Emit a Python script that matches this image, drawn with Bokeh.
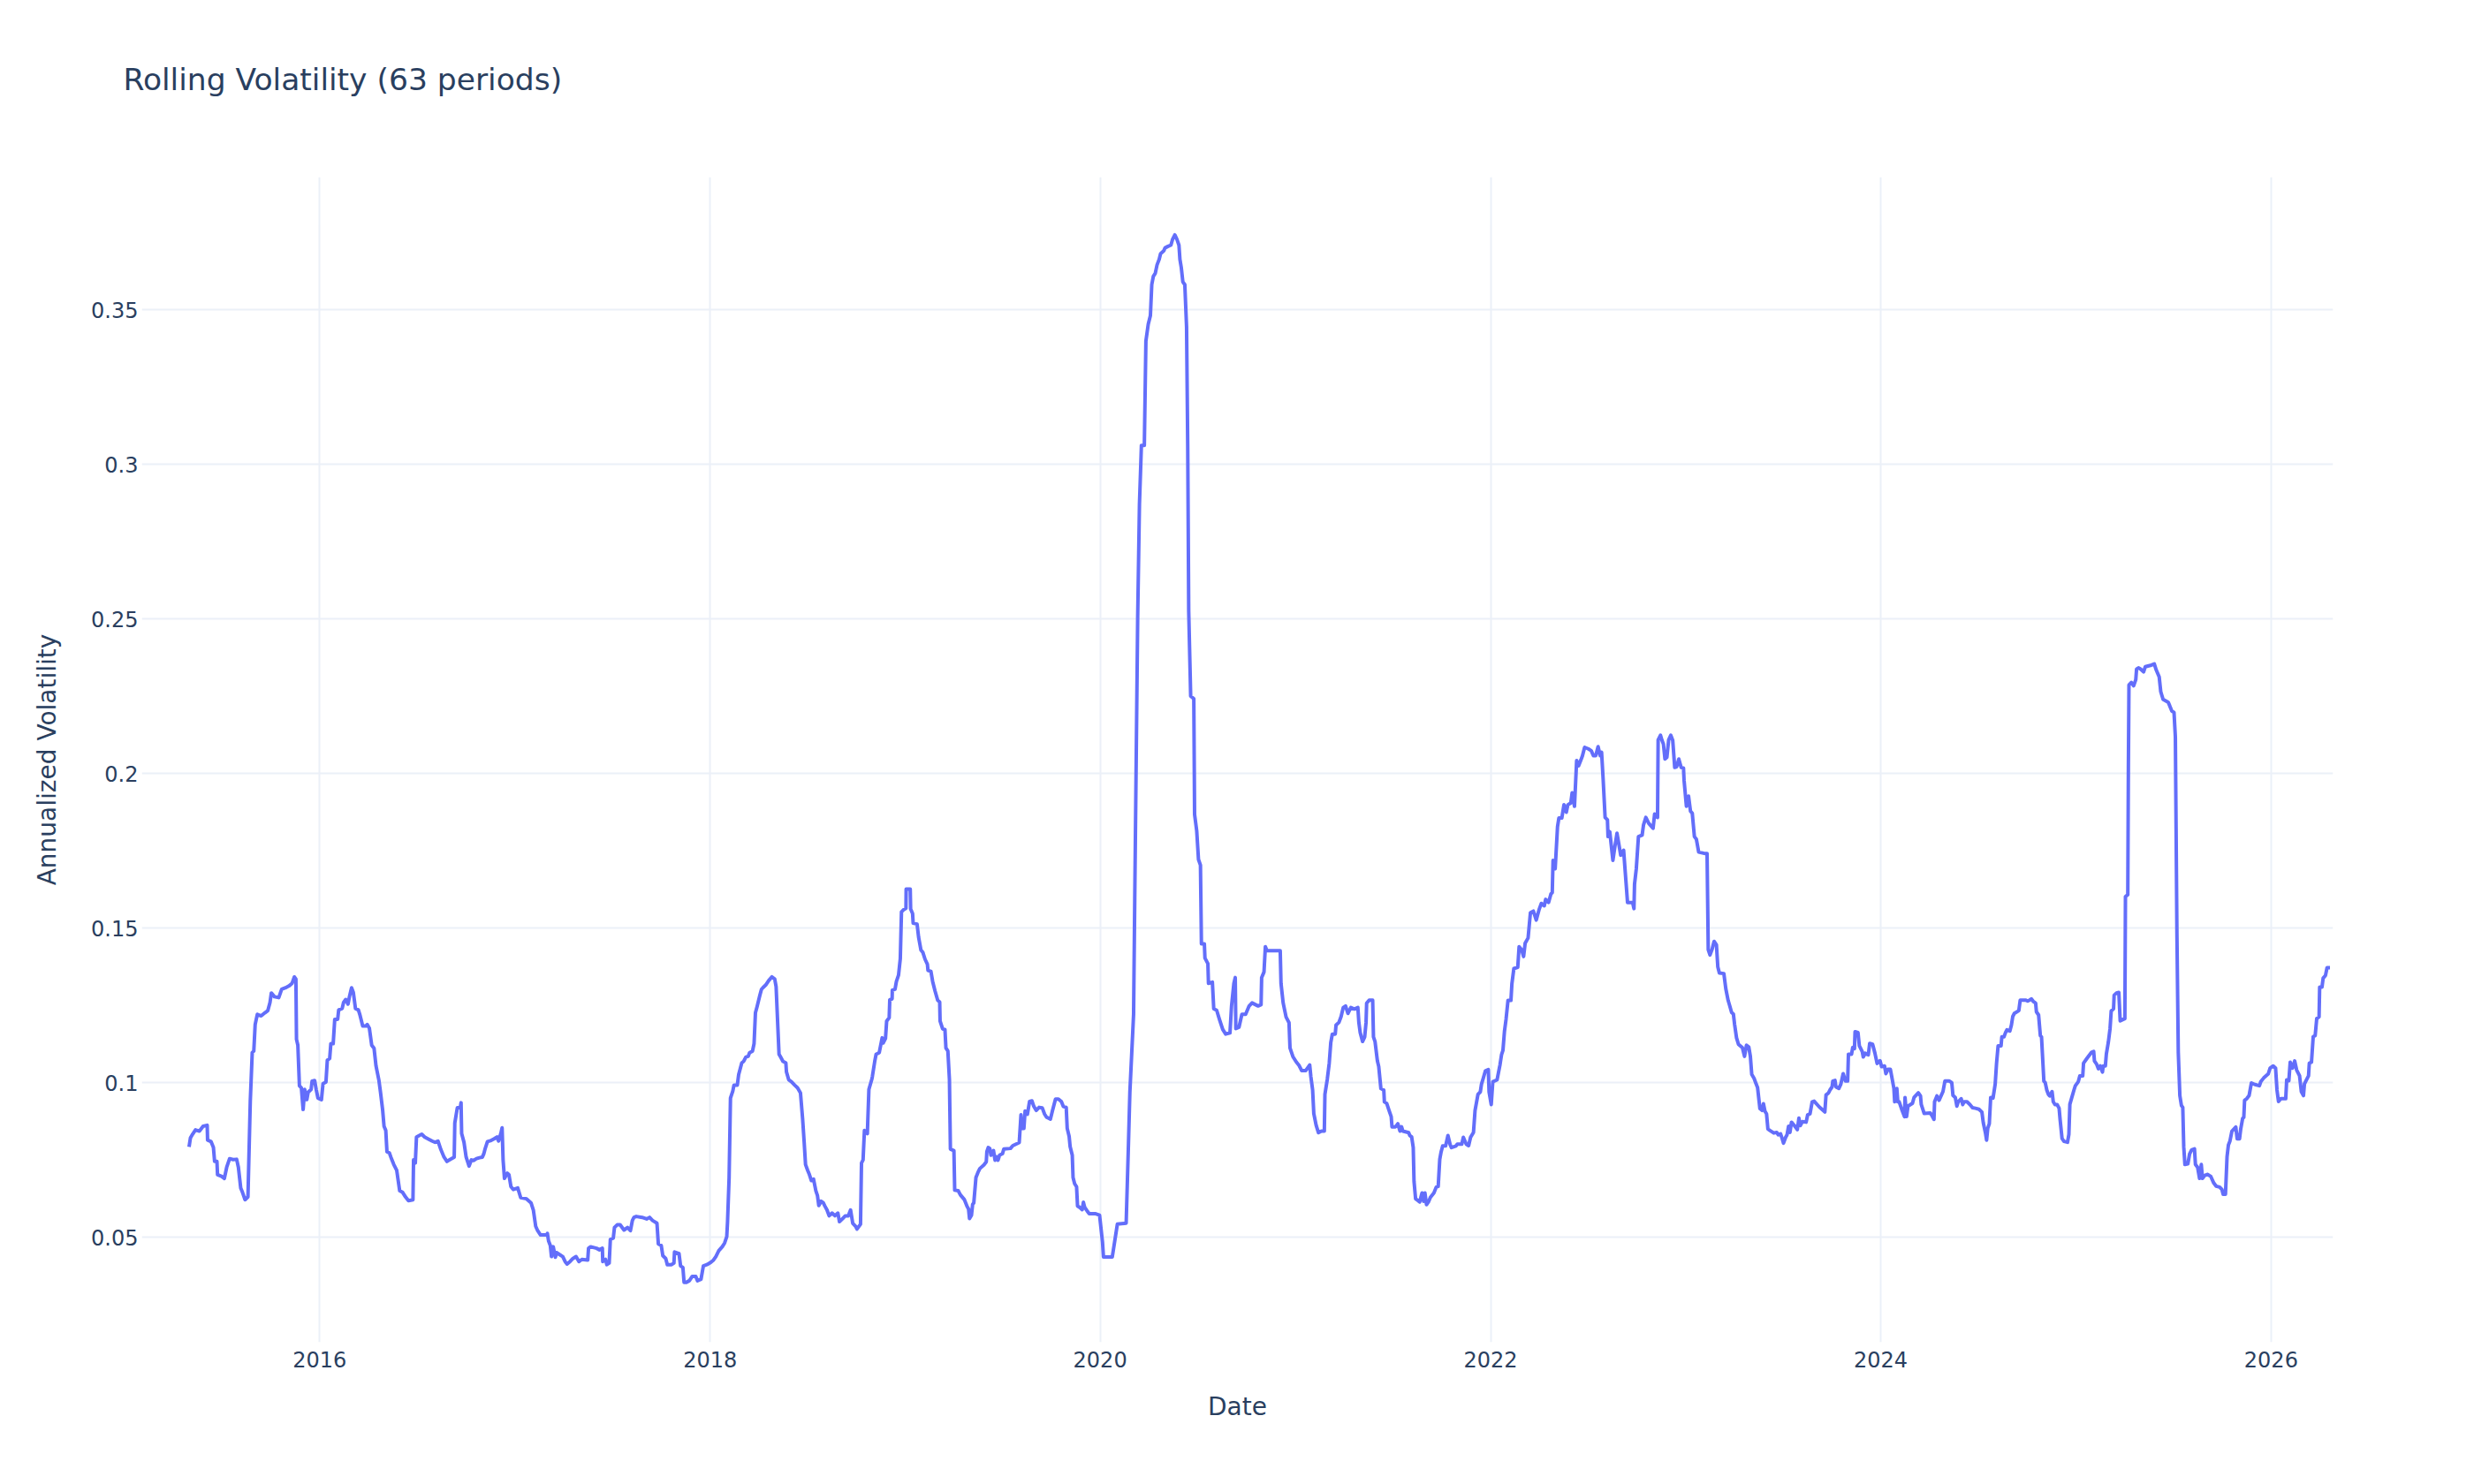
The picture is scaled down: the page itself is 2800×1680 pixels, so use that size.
from datetime import datetime

import pandas as pd
from bokeh.embed import file_html
from bokeh.models import (ColumnDataSource, DatetimeTickFormatter, FixedTicker,
                          NumeralTickFormatter, Range1d, Title)
from bokeh.plotting import figure
from bokeh.resources import INLINE

# Rolling 63-period annualized volatility, (decimal year, volatility) pairs.
vol_2015_2016 = [
    (2015.330, 0.0792), (2015.337, 0.0821), (2015.348, 0.0833), (2015.363, 0.0847),
    (2015.383, 0.0843), (2015.402, 0.0859), (2015.423, 0.0862), (2015.425, 0.0814),
    (2015.443, 0.0809), (2015.455, 0.0790), (2015.461, 0.0745), (2015.473, 0.0745),
    (2015.476, 0.0702), (2015.496, 0.0697), (2015.511, 0.0690), (2015.523, 0.0726),
    (2015.538, 0.0754), (2015.556, 0.0751), (2015.574, 0.0752), (2015.583, 0.0726),
    (2015.595, 0.0659), (2015.604, 0.0645), (2015.617, 0.0621), (2015.632, 0.0630),
    (2015.644, 0.0940), (2015.654, 0.1097), (2015.662, 0.1102), (2015.669, 0.1188),
    (2015.680, 0.1221), (2015.700, 0.1216), (2015.719, 0.1226), (2015.734, 0.1233),
    (2015.745, 0.1259), (2015.752, 0.1290), (2015.768, 0.1278), (2015.790, 0.1275),
    (2015.805, 0.1302), (2015.825, 0.1307), (2015.843, 0.1313), (2015.858, 0.1321),
    (2015.870, 0.1342), (2015.878, 0.1335), (2015.881, 0.1140), (2015.888, 0.1121),
    (2015.896, 0.0990), (2015.906, 0.0983), (2015.915, 0.0913), (2015.923, 0.0978),
    (2015.934, 0.0945), (2015.941, 0.0969), (2015.956, 0.0978), (2015.961, 0.1005),
    (2015.974, 0.1007), (2015.982, 0.0978), (2015.991, 0.0950), (2016.009, 0.0945),
    (2016.017, 0.0997), (2016.032, 0.1002), (2016.039, 0.1073), (2016.051, 0.1078),
    (2016.057, 0.1126), (2016.069, 0.1126), (2016.077, 0.1205), (2016.092, 0.1205),
    (2016.097, 0.1235), (2016.115, 0.1240), (2016.122, 0.1259), (2016.133, 0.1269),
    (2016.145, 0.1254), (2016.152, 0.1278), (2016.163, 0.1307), (2016.172, 0.1292),
    (2016.183, 0.1240), (2016.198, 0.1235), (2016.205, 0.1221), (2016.220, 0.1183),
    (2016.236, 0.1183), (2016.243, 0.1188), (2016.254, 0.1176), (2016.266, 0.1121),
    (2016.278, 0.1111), (2016.288, 0.1054), (2016.303, 0.1007), (2016.311, 0.0969),
    (2016.322, 0.0911), (2016.329, 0.0859), (2016.338, 0.0845), (2016.344, 0.0776),
    (2016.356, 0.0773), (2016.364, 0.0759), (2016.379, 0.0735), (2016.394, 0.0716),
    (2016.409, 0.0650), (2016.424, 0.0645), (2016.439, 0.0630), (2016.454, 0.0618),
    (2016.477, 0.0621), (2016.480, 0.0750), (2016.489, 0.0740), (2016.495, 0.0824),
    (2016.507, 0.0828), (2016.522, 0.0833), (2016.537, 0.0824), (2016.560, 0.0816),
    (2016.575, 0.0811), (2016.590, 0.0807), (2016.605, 0.0811), (2016.620, 0.0783),
    (2016.636, 0.0759), (2016.651, 0.0745), (2016.666, 0.0751), (2016.688, 0.0759),
    (2016.691, 0.0869), (2016.704, 0.0919), (2016.719, 0.0919), (2016.723, 0.0935),
    (2016.726, 0.0835), (2016.738, 0.0807), (2016.749, 0.0759), (2016.764, 0.0730),
    (2016.776, 0.0750), (2016.787, 0.0748), (2016.802, 0.0754), (2016.817, 0.0757),
    (2016.832, 0.0759), (2016.839, 0.0769), (2016.847, 0.0788), (2016.858, 0.0809),
    (2016.877, 0.0813), (2016.892, 0.0818), (2016.907, 0.0824), (2016.915, 0.0811),
    (2016.927, 0.0837), (2016.933, 0.0854), (2016.938, 0.0750), (2016.945, 0.0690),
    (2016.960, 0.0707), (2016.968, 0.0702), (2016.978, 0.0664), (2016.990, 0.0654),
    (2017.013, 0.0659), (2017.028, 0.0628), (2017.058, 0.0624),
]

vol_2017_2018 = [
    (2017.081, 0.0611), (2017.093, 0.0588), (2017.105, 0.0535), (2017.115, 0.0521),
    (2017.130, 0.0507), (2017.161, 0.0507), (2017.165, 0.0512), (2017.171, 0.0488),
    (2017.180, 0.0473), (2017.186, 0.0437), (2017.195, 0.0469), (2017.206, 0.0435),
    (2017.213, 0.0450), (2017.229, 0.0443), (2017.244, 0.0437), (2017.256, 0.0421),
    (2017.266, 0.0413), (2017.281, 0.0421), (2017.296, 0.0431), (2017.312, 0.0437),
    (2017.327, 0.0421), (2017.342, 0.0428), (2017.372, 0.0426), (2017.376, 0.0464),
    (2017.387, 0.0469), (2017.417, 0.0464), (2017.432, 0.0459), (2017.447, 0.0464),
    (2017.449, 0.0421), (2017.463, 0.0428), (2017.470, 0.0411), (2017.482, 0.0416),
    (2017.488, 0.0493), (2017.503, 0.0497), (2017.509, 0.0531), (2017.523, 0.0540),
    (2017.538, 0.0540), (2017.558, 0.0523), (2017.576, 0.0531), (2017.591, 0.0521),
    (2017.601, 0.0554), (2017.609, 0.0564), (2017.621, 0.0567), (2017.651, 0.0564),
    (2017.674, 0.0559), (2017.689, 0.0564), (2017.704, 0.0554), (2017.727, 0.0545),
    (2017.734, 0.0478), (2017.749, 0.0473), (2017.757, 0.0440), (2017.772, 0.0431),
    (2017.780, 0.0411), (2017.802, 0.0411), (2017.814, 0.0416), (2017.817, 0.0452),
    (2017.840, 0.0447), (2017.848, 0.0407), (2017.860, 0.0402), (2017.866, 0.0354),
    (2017.878, 0.0354), (2017.893, 0.0359), (2017.908, 0.0373), (2017.926, 0.0373),
    (2017.935, 0.0359), (2017.953, 0.0364), (2017.965, 0.0407), (2017.983, 0.0411),
    (2018.002, 0.0418), (2018.017, 0.0426), (2018.029, 0.0437), (2018.044, 0.0456),
    (2018.062, 0.0469), (2018.074, 0.0481), (2018.085, 0.0502), (2018.089, 0.0550),
    (2018.097, 0.0692), (2018.104, 0.0950), (2018.116, 0.0973), (2018.122, 0.0992),
    (2018.139, 0.0992), (2018.146, 0.1026), (2018.162, 0.1064), (2018.172, 0.1069),
    (2018.183, 0.1083), (2018.195, 0.1085), (2018.202, 0.1097), (2018.217, 0.1102),
    (2018.225, 0.1126), (2018.232, 0.1226), (2018.240, 0.1245), (2018.255, 0.1283),
    (2018.263, 0.1302), (2018.270, 0.1307), (2018.285, 0.1316), (2018.300, 0.1330),
    (2018.316, 0.1342), (2018.331, 0.1335), (2018.338, 0.1311), (2018.353, 0.1092),
    (2018.361, 0.1083), (2018.373, 0.1069), (2018.388, 0.1064), (2018.391, 0.1035),
    (2018.403, 0.1009), (2018.418, 0.1002), (2018.433, 0.0992), (2018.448, 0.0983),
    (2018.463, 0.0967), (2018.474, 0.0883), (2018.482, 0.0807), (2018.489, 0.0735),
    (2018.500, 0.0716), (2018.509, 0.0702), (2018.519, 0.0683), (2018.530, 0.0688),
    (2018.542, 0.0650), (2018.550, 0.0635), (2018.557, 0.0602), (2018.569, 0.0616),
    (2018.580, 0.0611), (2018.587, 0.0602), (2018.599, 0.0588), (2018.610, 0.0569),
    (2018.625, 0.0578), (2018.640, 0.0569), (2018.655, 0.0578), (2018.663, 0.0550),
    (2018.678, 0.0559), (2018.693, 0.0569), (2018.708, 0.0569), (2018.720, 0.0588),
    (2018.731, 0.0545), (2018.746, 0.0535), (2018.753, 0.0526), (2018.771, 0.0542),
    (2018.776, 0.0740), (2018.784, 0.0750), (2018.791, 0.0845), (2018.806, 0.0835),
    (2018.814, 0.0978), (2018.829, 0.1011), (2018.832, 0.1021), (2018.844, 0.1069),
    (2018.851, 0.1092), (2018.867, 0.1097), (2018.882, 0.1145),
]

vol_2019 = [
    (2018.887, 0.1128), (2018.899, 0.1143), (2018.905, 0.1199), (2018.918, 0.1210),
    (2018.921, 0.1268), (2018.933, 0.1271), (2018.934, 0.1299), (2018.948, 0.1302),
    (2018.955, 0.1327), (2018.966, 0.1348), (2018.975, 0.1401), (2018.981, 0.1552),
    (2018.993, 0.1560), (2019.004, 0.1564), (2019.005, 0.1626), (2019.026, 0.1626),
    (2019.028, 0.1562), (2019.038, 0.1547), (2019.041, 0.1516), (2019.061, 0.1513),
    (2019.069, 0.1470), (2019.081, 0.1429), (2019.091, 0.1421), (2019.102, 0.1399),
    (2019.114, 0.1383), (2019.117, 0.1363), (2019.132, 0.1360), (2019.141, 0.1327),
    (2019.153, 0.1297), (2019.167, 0.1266), (2019.177, 0.1261), (2019.179, 0.1199),
    (2019.192, 0.1174), (2019.204, 0.1172), (2019.209, 0.1112), (2019.219, 0.1102),
    (2019.227, 0.1010), (2019.232, 0.0785), (2019.250, 0.0780), (2019.254, 0.0652),
    (2019.272, 0.0650), (2019.283, 0.0637), (2019.303, 0.0622), (2019.318, 0.0599),
    (2019.325, 0.0591), (2019.330, 0.0560), (2019.340, 0.0571), (2019.346, 0.0606),
    (2019.352, 0.0611), (2019.363, 0.0693), (2019.373, 0.0709), (2019.383, 0.0722),
    (2019.404, 0.0734), (2019.416, 0.0744), (2019.419, 0.0777), (2019.426, 0.0790),
    (2019.434, 0.0787), (2019.440, 0.0765), (2019.453, 0.0780), (2019.461, 0.0749),
    (2019.469, 0.0760), (2019.476, 0.0749), (2019.484, 0.0765), (2019.499, 0.0770),
    (2019.506, 0.0785), (2019.540, 0.0787), (2019.552, 0.0796), (2019.585, 0.0806),
    (2019.594, 0.0896), (2019.597, 0.0852), (2019.609, 0.0852), (2019.615, 0.0908),
    (2019.627, 0.0898), (2019.638, 0.0939), (2019.650, 0.0941), (2019.660, 0.0923),
    (2019.672, 0.0910), (2019.687, 0.0920), (2019.703, 0.0918), (2019.715, 0.0898),
    (2019.725, 0.0888), (2019.745, 0.0882), (2019.755, 0.0908), (2019.771, 0.0947),
    (2019.786, 0.0947), (2019.801, 0.0939), (2019.811, 0.0923), (2019.826, 0.0920),
    (2019.831, 0.0852), (2019.841, 0.0826), (2019.846, 0.0793), (2019.857, 0.0765),
    (2019.861, 0.0693), (2019.869, 0.0673), (2019.879, 0.0663), (2019.884, 0.0601),
    (2019.896, 0.0596), (2019.908, 0.0589), (2019.914, 0.0613), (2019.921, 0.0596),
    (2019.932, 0.0586), (2019.944, 0.0576), (2019.974, 0.0576), (2019.997, 0.0571),
    (2020.012, 0.0484), (2020.017, 0.0436), (2020.062, 0.0436), (2020.088, 0.0542),
    (2020.133, 0.0545), (2020.145, 0.0806), (2020.152, 0.0969),
]

vol_2020 = [
    (2020.171, 0.1221), (2020.177, 0.1595), (2020.192, 0.2506), (2020.201, 0.2871),
    (2020.211, 0.3062), (2020.226, 0.3062), (2020.234, 0.3400), (2020.246, 0.3454),
    (2020.257, 0.3482), (2020.264, 0.3582), (2020.272, 0.3609), (2020.282, 0.3619),
    (2020.291, 0.3646), (2020.302, 0.3664), (2020.309, 0.3682), (2020.325, 0.3691),
    (2020.332, 0.3701), (2020.347, 0.3706), (2020.362, 0.3710), (2020.370, 0.3728),
    (2020.382, 0.3743), (2020.393, 0.3728), (2020.403, 0.3710), (2020.408, 0.3664),
    (2020.415, 0.3637), (2020.423, 0.3591), (2020.433, 0.3582), (2020.442, 0.3445),
    (2020.448, 0.3053), (2020.453, 0.2525), (2020.463, 0.2251), (2020.479, 0.2242),
    (2020.483, 0.1868), (2020.494, 0.1814), (2020.503, 0.1722), (2020.513, 0.1704),
    (2020.518, 0.1449), (2020.533, 0.1449), (2020.536, 0.1403), (2020.551, 0.1385),
    (2020.554, 0.1321), (2020.574, 0.1325), (2020.581, 0.1239), (2020.596, 0.1234),
    (2020.611, 0.1203), (2020.627, 0.1172), (2020.642, 0.1157), (2020.664, 0.1161),
    (2020.672, 0.1248), (2020.684, 0.1321), (2020.691, 0.1340), (2020.694, 0.1175),
    (2020.710, 0.1179), (2020.725, 0.1221), (2020.744, 0.1221), (2020.762, 0.1248),
    (2020.777, 0.1258), (2020.808, 0.1248), (2020.823, 0.1252), (2020.826, 0.1340),
    (2020.838, 0.1358), (2020.845, 0.1440), (2020.853, 0.1427), (2020.921, 0.1427),
    (2020.925, 0.1321), (2020.936, 0.1258), (2020.951, 0.1212), (2020.966, 0.1194),
    (2020.971, 0.1112), (2020.986, 0.1084), (2021.004, 0.1066), (2021.016, 0.1057),
    (2021.031, 0.1039), (2021.052, 0.1039), (2021.072, 0.1057),
]

vol_2021 = [
    (2021.078, 0.1019), (2021.087, 0.0976), (2021.093, 0.0900), (2021.105, 0.0862),
    (2021.117, 0.0838), (2021.132, 0.0843), (2021.147, 0.0843), (2021.150, 0.0962),
    (2021.162, 0.1010), (2021.172, 0.1062), (2021.180, 0.1129), (2021.188, 0.1157),
    (2021.203, 0.1157), (2021.207, 0.1186), (2021.222, 0.1195), (2021.233, 0.1214),
    (2021.244, 0.1243), (2021.256, 0.1248), (2021.268, 0.1224), (2021.283, 0.1243),
    (2021.301, 0.1238), (2021.319, 0.1243), (2021.324, 0.1195), (2021.331, 0.1162),
    (2021.343, 0.1133), (2021.354, 0.1148), (2021.361, 0.1195), (2021.364, 0.1257),
    (2021.377, 0.1267), (2021.395, 0.1267), (2021.399, 0.1148), (2021.407, 0.1133),
    (2021.419, 0.1071), (2021.426, 0.1052), (2021.437, 0.0981), (2021.452, 0.0976),
    (2021.455, 0.0938), (2021.467, 0.0933), (2021.479, 0.0910), (2021.490, 0.0890),
    (2021.494, 0.0857), (2021.512, 0.0857), (2021.524, 0.0867), (2021.535, 0.0843),
    (2021.543, 0.0857), (2021.550, 0.0843), (2021.580, 0.0838), (2021.585, 0.0829),
    (2021.595, 0.0824), (2021.603, 0.0790), (2021.607, 0.0681), (2021.615, 0.0624),
    (2021.626, 0.0619), (2021.636, 0.0614), (2021.648, 0.0643), (2021.656, 0.0616),
    (2021.663, 0.0643), (2021.671, 0.0605), (2021.681, 0.0614), (2021.691, 0.0629),
    (2021.709, 0.0643), (2021.721, 0.0662), (2021.731, 0.0664), (2021.739, 0.0752),
    (2021.746, 0.0776), (2021.754, 0.0795), (2021.769, 0.0795), (2021.781, 0.0829),
    (2021.792, 0.0800), (2021.799, 0.0790), (2021.822, 0.0795),
]

vol_2022_2023 = [
    (2021.829, 0.0801), (2021.852, 0.0801), (2021.860, 0.0823), (2021.875, 0.0801),
    (2021.887, 0.0796), (2021.897, 0.0823), (2021.912, 0.0839), (2021.920, 0.0910),
    (2021.935, 0.0962), (2021.947, 0.0970), (2021.953, 0.0995), (2021.962, 0.1014),
    (2021.973, 0.1038), (2021.988, 0.1042), (2021.992, 0.0970), (2022.003, 0.0929),
    (2022.011, 0.1003), (2022.033, 0.1009), (2022.048, 0.1058), (2022.056, 0.1091),
    (2022.063, 0.1104), (2022.071, 0.1167), (2022.079, 0.1205), (2022.089, 0.1266),
    (2022.104, 0.1266), (2022.109, 0.1320), (2022.119, 0.1369), (2022.139, 0.1373),
    (2022.146, 0.1440), (2022.159, 0.1430), (2022.169, 0.1408), (2022.177, 0.1451),
    (2022.192, 0.1468), (2022.204, 0.1550), (2022.219, 0.1555), (2022.234, 0.1526),
    (2022.249, 0.1561), (2022.260, 0.1580), (2022.275, 0.1572), (2022.282, 0.1593),
    (2022.297, 0.1583), (2022.309, 0.1610), (2022.316, 0.1615), (2022.320, 0.1719),
    (2022.331, 0.1692), (2022.343, 0.1828), (2022.350, 0.1856), (2022.365, 0.1856),
    (2022.376, 0.1899), (2022.388, 0.1875), (2022.396, 0.1899), (2022.411, 0.1905),
    (2022.418, 0.1938), (2022.430, 0.1894), (2022.441, 0.2042), (2022.451, 0.2025),
    (2022.463, 0.2044), (2022.471, 0.2058), (2022.482, 0.2085), (2022.501, 0.2080),
    (2022.516, 0.2074), (2022.527, 0.2058), (2022.539, 0.2058), (2022.551, 0.2087),
    (2022.562, 0.2058), (2022.569, 0.2069), (2022.577, 0.1981), (2022.587, 0.1858),
    (2022.599, 0.1850), (2022.602, 0.1796), (2022.611, 0.1812), (2022.627, 0.1719),
    (2022.637, 0.1763), (2022.648, 0.1807), (2022.657, 0.1774), (2022.667, 0.1736),
    (2022.682, 0.1752), (2022.693, 0.1659), (2022.702, 0.1583), (2022.728, 0.1583),
    (2022.735, 0.1563), (2022.738, 0.1643), (2022.747, 0.1692), (2022.758, 0.1796),
    (2022.777, 0.1801), (2022.784, 0.1834), (2022.796, 0.1858), (2022.811, 0.1839),
    (2022.833, 0.1823), (2022.841, 0.1869), (2022.856, 0.1858), (2022.859, 0.2109),
    (2022.871, 0.2124), (2022.879, 0.2107), (2022.886, 0.2096), (2022.894, 0.2047),
    (2022.904, 0.2053), (2022.913, 0.2109), (2022.924, 0.2124), (2022.934, 0.2107),
    (2022.944, 0.2020), (2022.954, 0.2022), (2022.965, 0.2047), (2022.977, 0.2020),
    (2022.989, 0.2018), (2022.992, 0.1978), (2023.004, 0.1894), (2023.015, 0.1927),
    (2023.025, 0.1878), (2023.034, 0.1872), (2023.045, 0.1796), (2023.055, 0.1788),
    (2023.067, 0.1746), (2023.101, 0.1741), (2023.110, 0.1741), (2023.116, 0.1430),
    (2023.125, 0.1413), (2023.135, 0.1430), (2023.146, 0.1457), (2023.158, 0.1446),
    (2023.165, 0.1375), (2023.173, 0.1355), (2023.196, 0.1353), (2023.206, 0.1304),
    (2023.218, 0.1266), (2023.226, 0.1249), (2023.236, 0.1227), (2023.245, 0.1222),
    (2023.251, 0.1189), (2023.261, 0.1145), (2023.271, 0.1124), (2023.291, 0.1113),
    (2023.302, 0.1085), (2023.312, 0.1121), (2023.324, 0.1115), (2023.332, 0.1085),
    (2023.339, 0.1027), (2023.351, 0.1014), (2023.362, 0.0995), (2023.369, 0.0984),
    (2023.381, 0.0916), (2023.392, 0.0910), (2023.399, 0.0932), (2023.407, 0.0907),
    (2023.415, 0.0899), (2023.422, 0.0850), (2023.433, 0.0845), (2023.452, 0.0837),
    (2023.467, 0.0839), (2023.475, 0.0831), (2023.487, 0.0834), (2023.493, 0.0823),
    (2023.502, 0.0804), (2023.513, 0.0823), (2023.520, 0.0831), (2023.528, 0.0859),
    (2023.535, 0.0839), (2023.543, 0.0872), (2023.558, 0.0861), (2023.573, 0.0848),
    (2023.581, 0.0885), (2023.588, 0.0861), (2023.599, 0.0874), (2023.618, 0.0872),
    (2023.626, 0.0896), (2023.638, 0.0899), (2023.649, 0.0938), (2023.659, 0.0940),
    (2023.686, 0.0921), (2023.714, 0.0905), (2023.720, 0.0960),
]

vol_2024 = [
    (2023.733, 0.0967), (2023.740, 0.0976), (2023.751, 0.0986), (2023.755, 0.1005),
    (2023.766, 0.1007), (2023.771, 0.0986), (2023.786, 0.0981), (2023.796, 0.0995),
    (2023.808, 0.1029), (2023.820, 0.1005), (2023.831, 0.1005), (2023.835, 0.1092),
    (2023.851, 0.1092), (2023.857, 0.1114), (2023.866, 0.1110), (2023.869, 0.1165),
    (2023.884, 0.1162), (2023.891, 0.1119), (2023.906, 0.1100), (2023.911, 0.1083),
    (2023.921, 0.1095), (2023.937, 0.1090), (2023.944, 0.1127), (2023.959, 0.1124),
    (2023.971, 0.1095), (2023.982, 0.1062), (2023.997, 0.1071), (2024.005, 0.1052),
    (2024.020, 0.1054), (2024.027, 0.1029), (2024.038, 0.1043), (2024.050, 0.1043),
    (2024.057, 0.1019), (2024.068, 0.0981), (2024.072, 0.0938), (2024.083, 0.0981),
    (2024.088, 0.0938), (2024.095, 0.0938), (2024.110, 0.0910), (2024.122, 0.0890),
    (2024.125, 0.0952), (2024.133, 0.0890), (2024.140, 0.0924), (2024.163, 0.0933),
    (2024.171, 0.0952), (2024.193, 0.0967), (2024.204, 0.0957), (2024.208, 0.0929),
    (2024.223, 0.0900), (2024.254, 0.0902), (2024.261, 0.0895), (2024.273, 0.0881),
    (2024.276, 0.0938), (2024.288, 0.0957), (2024.299, 0.0943), (2024.309, 0.0957),
    (2024.319, 0.0971), (2024.329, 0.1005), (2024.352, 0.1005), (2024.364, 0.1000),
    (2024.370, 0.0959), (2024.382, 0.0952), (2024.390, 0.0924), (2024.397, 0.0938),
    (2024.412, 0.0948), (2024.420, 0.0929), (2024.427, 0.0938), (2024.442, 0.0938),
    (2024.457, 0.0929), (2024.470, 0.0919), (2024.485, 0.0917), (2024.503, 0.0914),
    (2024.518, 0.0905), (2024.525, 0.0871), (2024.536, 0.0838), (2024.542, 0.0814),
    (2024.548, 0.0852), (2024.556, 0.0867), (2024.563, 0.0952), (2024.575, 0.0950),
    (2024.586, 0.0995), (2024.593, 0.1062), (2024.601, 0.1119), (2024.616, 0.1119),
    (2024.620, 0.1148), (2024.631, 0.1148), (2024.639, 0.1162), (2024.646, 0.1171),
    (2024.661, 0.1167), (2024.669, 0.1186), (2024.676, 0.1214), (2024.684, 0.1224),
    (2024.707, 0.1233), (2024.714, 0.1267), (2024.741, 0.1267), (2024.752, 0.1264),
    (2024.762, 0.1267), (2024.771, 0.1271), (2024.782, 0.1262), (2024.793, 0.1257),
    (2024.797, 0.1229), (2024.808, 0.1219), (2024.817, 0.1152), (2024.823, 0.1148),
    (2024.835, 0.1005), (2024.842, 0.1000), (2024.850, 0.0976), (2024.858, 0.0962),
    (2024.865, 0.0957), (2024.877, 0.0971), (2024.883, 0.0938), (2024.892, 0.0929),
    (2024.903, 0.0929), (2024.913, 0.0917), (2024.918, 0.0881), (2024.928, 0.0819),
    (2024.938, 0.0810), (2024.956, 0.0807), (2024.963, 0.0833), (2024.968, 0.0930),
    (2024.978, 0.0952), (2024.989, 0.0976),
]

vol_2025_2026 = [
    (2024.996, 0.0990), (2025.011, 0.1003), (2025.019, 0.1022), (2025.034, 0.1022),
    (2025.038, 0.1063), (2025.056, 0.1079), (2025.079, 0.1098), (2025.090, 0.1101),
    (2025.094, 0.1070), (2025.105, 0.1060), (2025.114, 0.1045), (2025.124, 0.1054),
    (2025.135, 0.1034), (2025.139, 0.1054), (2025.150, 0.1054), (2025.155, 0.1092),
    (2025.165, 0.1130), (2025.174, 0.1175), (2025.180, 0.1232), (2025.192, 0.1239),
    (2025.195, 0.1283), (2025.207, 0.1290), (2025.219, 0.1292), (2025.226, 0.1200),
    (2025.250, 0.1207), (2025.253, 0.1602), (2025.265, 0.1608), (2025.268, 0.2017),
    (2025.271, 0.2287), (2025.283, 0.2295), (2025.295, 0.2284), (2025.306, 0.2304),
    (2025.310, 0.2338), (2025.321, 0.2342), (2025.331, 0.2338), (2025.346, 0.2329),
    (2025.355, 0.2346), (2025.386, 0.2351), (2025.401, 0.2355), (2025.411, 0.2335),
    (2025.426, 0.2313), (2025.434, 0.2265), (2025.446, 0.2240), (2025.472, 0.2231),
    (2025.479, 0.2221), (2025.491, 0.2202), (2025.502, 0.2198), (2025.509, 0.2119),
    (2025.517, 0.1481), (2025.524, 0.1098), (2025.532, 0.0958), (2025.540, 0.0926),
    (2025.547, 0.0920), (2025.552, 0.0792), (2025.558, 0.0735), (2025.573, 0.0737),
    (2025.582, 0.0769), (2025.592, 0.0782), (2025.607, 0.0786), (2025.612, 0.0735),
    (2025.623, 0.0726), (2025.633, 0.0690), (2025.642, 0.0735), (2025.648, 0.0690),
    (2025.660, 0.0700), (2025.675, 0.0703), (2025.691, 0.0696), (2025.706, 0.0675),
    (2025.718, 0.0665), (2025.736, 0.0662), (2025.748, 0.0654), (2025.754, 0.0639),
    (2025.766, 0.0639), (2025.774, 0.0760), (2025.781, 0.0798), (2025.789, 0.0811),
    (2025.799, 0.0843), (2025.819, 0.0856), (2025.826, 0.0818), (2025.838, 0.0818),
    (2025.844, 0.0849), (2025.854, 0.0884), (2025.860, 0.0888), (2025.864, 0.0943),
    (2025.875, 0.0948), (2025.887, 0.0958), (2025.899, 0.0999), (2025.917, 0.0994),
    (2025.940, 0.0990), (2025.947, 0.1003), (2025.962, 0.1015), (2025.985, 0.1028),
    (2025.995, 0.1047), (2026.011, 0.1054), (2026.023, 0.1047), (2026.030, 0.0977),
    (2026.038, 0.0939), (2026.050, 0.0948), (2026.075, 0.0948), (2026.080, 0.1009),
    (2026.091, 0.1006), (2026.098, 0.1066), (2026.110, 0.1047), (2026.121, 0.1070),
    (2026.131, 0.1041), (2026.146, 0.1022), (2026.155, 0.0971), (2026.166, 0.0958),
    (2026.171, 0.0996), (2026.192, 0.1022), (2026.196, 0.1063), (2026.207, 0.1066),
    (2026.216, 0.1149), (2026.226, 0.1152), (2026.234, 0.1207), (2026.246, 0.1213),
    (2026.249, 0.1309), (2026.261, 0.1309), (2026.267, 0.1338), (2026.279, 0.1347),
    (2026.287, 0.1372), (2026.302, 0.1372),
]

# Full date span of the series (the first 62 rows have no rolling value yet).
date_start = "2015-02-02"
date_end = "2026-04-27"
y_ticks = [0.05, 0.10, 0.15, 0.20, 0.25, 0.30, 0.35]
x_tick_years = [2016, 2018, 2020, 2022, 2024, 2026]

TEXT = "#2a3f5f"
GRID = "#EBF0F8"
LINE = "#636efa"
FONT = "DejaVu Sans"


def to_datetime(year_fraction):
    year = int(year_fraction)
    start = datetime(year, 1, 1)
    end = datetime(year + 1, 1, 1)
    return start + (end - start) * (year_fraction - year)


points = (vol_2015_2016 + vol_2017_2018 + vol_2019 + vol_2020 + vol_2021
          + vol_2022_2023 + vol_2024 + vol_2025_2026)
source = ColumnDataSource(data=dict(
    date=[to_datetime(t) for t, _ in points],
    vol=[v for _, v in points],
))

p = figure(
    width=2800, height=1680,
    x_axis_type="datetime",
    x_range=Range1d(pd.Timestamp(date_start), pd.Timestamp(date_end)),
    y_range=Range1d(0.016, 0.393),
    output_backend="svg", toolbar_location=None,
    background_fill_color="white", border_fill_color="white",
    min_border_left=160, min_border_right=160,
    min_border_top=200, min_border_bottom=161,
)
p.outline_line_color = None

# Blank band between the plot area and the title, lifting the title up.
p.add_layout(Title(text=" ", text_font_size="1px", standoff=88), "above")

p.title.text = "Rolling Volatility (63 periods)"
p.title.text_font = FONT
p.title.text_font_size = "34.5px"
p.title.text_font_style = "normal"
p.title.text_color = TEXT
p.title.align = "left"
p.title.offset = -21
p.title.standoff = 0

p.line(x="date", y="vol", source=source, line_color=LINE, line_width=4,
       line_join="round")

# x axis
xaxis = p.xaxis[0]
xaxis.ticker = FixedTicker(ticks=[pd.Timestamp(f"{y}-01-01").value / 1e6 for y in x_tick_years])
xaxis.formatter = DatetimeTickFormatter(
    years="%Y", months="%Y", days="%Y", hours="%Y", minutes="%Y",
    seconds="%Y", milliseconds="%Y", microseconds="%Y")
xaxis.axis_label = "Date"
xaxis.major_label_standoff = 10
xaxis.axis_label_standoff = 25

# y axis
yaxis = p.yaxis[0]
yaxis.ticker = FixedTicker(ticks=y_ticks)
yaxis.formatter = NumeralTickFormatter(format="0.[00]")
yaxis.axis_label = "Annualized Volatility"
yaxis.major_label_standoff = 4
yaxis.axis_label_standoff = 30

for ax in (xaxis, yaxis):
    ax.axis_line_color = None
    ax.major_tick_line_color = None
    ax.minor_tick_line_color = None
    ax.major_tick_out = 0
    ax.major_tick_in = 0
    ax.major_label_text_font = FONT
    ax.major_label_text_font_size = "24px"
    ax.major_label_text_color = TEXT
    ax.axis_label_text_font = FONT
    ax.axis_label_text_font_size = "28px"
    ax.axis_label_text_font_style = "normal"
    ax.axis_label_text_color = TEXT

for g in (p.xgrid, p.ygrid):
    g.grid_line_color = GRID
    g.grid_line_width = 2

open("out.html", "w").write(file_html(p, INLINE))
